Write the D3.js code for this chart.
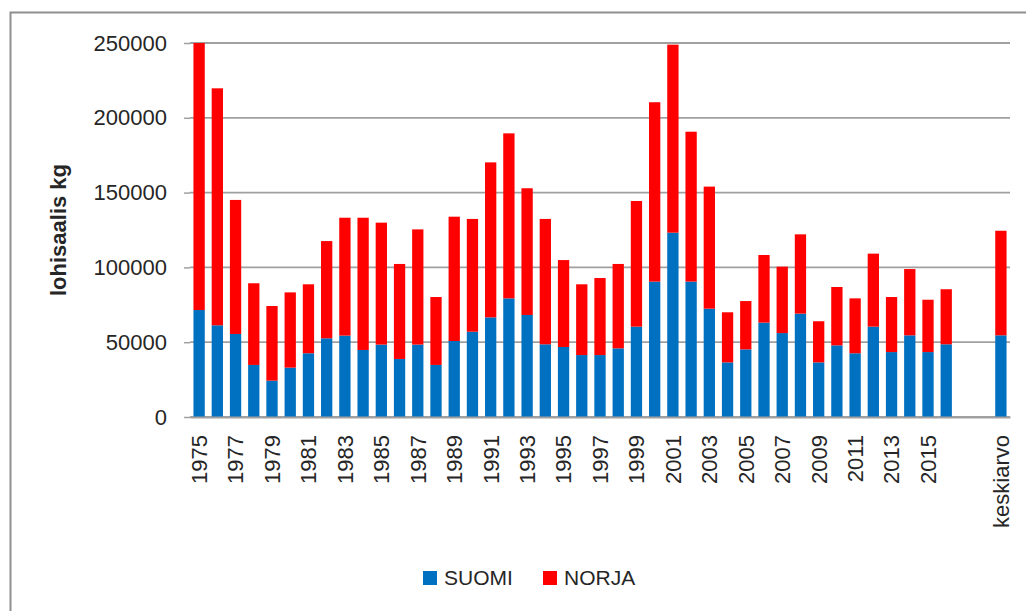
<!DOCTYPE html>
<html>
<head>
<meta charset="utf-8">
<script src="https://cdn.jsdelivr.net/npm/d3@7"></script>
<style>
  body { margin: 0; background: #fff; }
  text { font-family: "Liberation Sans", Arial, sans-serif; fill: #262626; }
</style>
</head>
<body>
<div id="chart"></div>
<script>
// lohisaalis per vuosi (kg), luettu kuvasta
var years = ["1975","1976","1977","1978","1979","1980","1981","1982","1983","1984",
    "1985","1986","1987","1988","1989","1990","1991","1992","1993","1994",
    "1995","1996","1997","1998","1999","2000","2001","2002","2003","2004",
    "2005","2006","2007","2008","2009","2010","2011","2012","2013","2014",
    "2015","2016"];
var suomi = [71500, 61300, 55500, 34800, 24300, 33000, 42600, 52600, 54400, 44800,
    48400, 38800, 48400, 34800, 50800, 57000, 66600, 79300, 68200, 48600,
    46800, 41400, 41400, 45900, 60400, 90500, 123200, 90500, 72400, 36500,
    45200, 63100, 56100, 69100, 36500, 47900, 42600, 60400, 43400, 54600,
    43400, 48600];
var norja = [178500, 158400, 89600, 54600, 49900, 50300, 46100, 65000, 78800, 88400,
    81500, 63500, 77000, 45400, 83100, 75400, 103600, 110300, 84700, 83800,
    58100, 47300, 51500, 56400, 84000, 119900, 125700, 100200, 81600, 33500,
    32300, 45200, 44400, 53000, 27500, 39000, 36700, 48800, 36800, 44300,
    35000, 36800];
var avgLabel = "keskiarvo";
var avgSuomi = 54600;
var avgNorja = 69900;

var seriesNames = ["SUOMI", "NORJA"];
var colors = {SUOMI: "#0070c0", NORJA: "#ff0000"};
var yTicks = [0, 50000, 100000, 150000, 200000, 250000];

var svgWidth = 1026;
var svgHeight = 611;
var margin = {top: 43, right: 16, bottom: 194, left: 190};
var width = svgWidth - margin.left - margin.right;
var height = svgHeight - margin.top - margin.bottom;

var svg = d3.select("#chart")
    .append("svg")
    .attr("width", svgWidth)
    .attr("height", svgHeight);

svg.append("rect")
    .attr("width", svgWidth)
    .attr("height", svgHeight)
    .attr("fill", "#fff");

// chart area border (only top and left visible)
svg.append("path")
    .attr("d", "M10.5," + svgHeight + "V12.5H" + svgWidth)
    .attr("fill", "none")
    .attr("stroke", "#8f8f8f")
    .attr("stroke-width", 2);

var rows = years.map(function (y, i) {
    return {cat: y, SUOMI: suomi[i], NORJA: norja[i]};
});
rows.push({cat: avgLabel, SUOMI: avgSuomi, NORJA: avgNorja});

var domain = years.concat(["gap1", "gap2", avgLabel]);

var xScale = d3.scaleBand()
    .domain(domain)
    .range([0, width])
    .paddingInner(0.38)
    .paddingOuter(0.19);

var yScale = d3.scaleLinear()
    .domain([0, 250000])
    .range([height, 0]);

var charts = svg.append("g")
    .attr("transform", `translate(${margin.left}, ${margin.top})`);

// gridlines
charts.append("g")
    .selectAll("line")
    .data(yTicks)
    .enter()
    .append("line")
    .attr("x1", 0)
    .attr("x2", width)
    .attr("y1", d => yScale(d))
    .attr("y2", d => yScale(d))
    .attr("stroke", "#a0a0a0")
    .attr("stroke-width", 1.8);

var leftAxis = d3.axisLeft(yScale)
    .tickValues(yTicks)
    .tickFormat(d3.format("d"))
    .tickSizeInner(6)
    .tickSizeOuter(0)
    .tickPadding(17);

var yAxis = charts.append("g").call(leftAxis);
yAxis.select(".domain").remove();
yAxis.selectAll("line").attr("stroke", "#a0a0a0").attr("stroke-width", 1.5);
yAxis.selectAll("text")
    .style("font-size", "22px")
    .attr("fill", "#262626");

// stacked bars
var stacked = d3.stack().keys(seriesNames)(rows);

charts.append("g")
    .selectAll("g")
    .data(stacked)
    .enter()
    .append("g")
    .attr("fill", d => colors[d.key])
    .selectAll("rect")
    .data(d => d)
    .enter()
    .append("rect")
    .attr("x", d => xScale(d.data.cat))
    .attr("y", d => yScale(d[1]))
    .attr("width", xScale.bandwidth())
    .attr("height", d => yScale(d[0]) - yScale(d[1]));

// x axis
var bottomAxis = d3.axisBottom(xScale)
    .tickSize(0)
    .tickFormat(function (d) {
        if (d === avgLabel) return d;
        if (d.indexOf("gap") === 0) return "";
        return (+d - 1975) % 2 === 0 ? d : "";
    });

var xAxis = charts.append("g")
    .attr("transform", `translate(0, ${height})`)
    .call(bottomAxis);
xAxis.select(".domain")
    .attr("stroke", "#a0a0a0")
    .attr("stroke-width", 1.8);
xAxis.selectAll("text")
    .style("font-size", "22px")
    .attr("fill", "#262626")
    .attr("text-anchor", "end")
    .attr("transform", "rotate(-90)")
    .attr("x", -18)
    .attr("y", 0)
    .attr("dy", "0.36em");

// y axis title
charts.append("text")
    .attr("transform", "rotate(-90)")
    .attr("x", -(yScale(125000)))
    .attr("y", 66 - margin.left)
    .attr("text-anchor", "middle")
    .style("font-size", "22px")
    .style("font-weight", "bold")
    .attr("fill", "#000")
    .text("lohisaalis kg");

// legend
var legendItems = [
    {name: "SUOMI", x: 423},
    {name: "NORJA", x: 543}
];
var legend = svg.append("g")
    .selectAll("g")
    .data(legendItems)
    .enter()
    .append("g")
    .attr("transform", d => `translate(${d.x}, 571)`);

legend.append("rect")
    .attr("width", 14)
    .attr("height", 14)
    .attr("fill", d => colors[d.name]);

legend.append("text")
    .attr("x", 21)
    .attr("y", 14)
    .style("font-size", "21px")
    .attr("fill", "#262626")
    .text(d => d.name);
</script>
</body>
</html>
